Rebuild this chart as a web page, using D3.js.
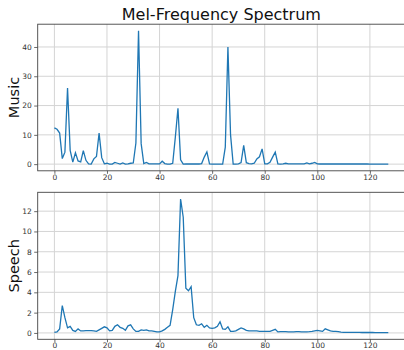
<!DOCTYPE html>
<html><head><meta charset="utf-8">
<script src="https://cdn.jsdelivr.net/npm/d3@7"></script>
<style>
body{margin:0;background:#fff;}
svg{display:block;}
text{font-family:"DejaVu Sans",sans-serif;}
</style></head>
<body>
<svg id="c" width="404" height="350"></svg>
<script>
const title = "Mel-Frequency Spectrum";
const seriesNames = ["Music", "Speech"];
const xTicks = [0, 20, 40, 60, 80, 100, 120];
const musicTicks = [0, 10, 20, 30, 40];
const speechTicks = [0, 2, 4, 6, 8, 10, 12];

const music = [
12.4,11.9,10.6,1.9,4.1,26,4.7,0.7,3.9,1.1,
0.8,4.6,1.3,0.1,0,1.8,2.6,10.6,2.2,0.1,
0.3,0,0,0.6,0.3,0,0.4,0,0.1,0.3,
0.4,7.2,45.5,7.0,0.2,0.6,0.1,0.1,0.1,0.1,
0.1,1.0,0.2,0,0,0.3,9.2,19.1,1.5,0,
0.05,0.05,0.05,0.05,0.05,0.05,0.2,2.4,4.2,0.1,
0,0,0,0,0,5.8,40,10,0,0,
0.1,0.5,6.4,0.5,0.2,0.1,0.3,1.8,2.5,5.2,
0.1,0.1,0.6,2.4,4.1,0.1,0,0.1,0.3,0.1,
0.1,0.1,0.1,0.1,0.1,0.1,0.4,0.1,0.3,0.6,
0.1,0.05,0.05,0.05,0.05,0.05,0.05,0.05,0.05,0.05,
0.05,0.05,0.05,0.05,0.05,0.05,0.04,0.04,0.04,0.04,
0.03,0.03,0.03,0.03,0.03,0.02,0.02,0.02
];
const speech = [
0.05,0.1,0.4,2.7,1.5,0.5,0.65,0.25,0.15,0.4,
0.2,0.2,0.22,0.22,0.22,0.2,0.15,0.3,0.45,0.6,
0.5,0.2,0.25,0.65,0.8,0.55,0.45,0.25,0.7,0.8,
0.4,0.15,0.15,0.3,0.25,0.3,0.2,0.2,0.15,0.1,
0.1,0.2,0.35,0.55,0.75,2.3,4.1,5.65,13.2,11.4,
4.4,4.15,4.55,1.5,0.8,0.75,0.9,0.55,0.75,0.5,
0.45,0.5,0.65,1.1,0.4,0.35,0.6,0.15,0.15,0.2,
0.35,0.5,0.4,0.25,0.2,0.2,0.2,0.2,0.15,0.15,
0.15,0.15,0.15,0.25,0.35,0.1,0.12,0.12,0.12,0.1,
0.1,0.1,0.12,0.12,0.1,0.1,0.1,0.12,0.15,0.2,
0.25,0.2,0.15,0.4,0.3,0.2,0.15,0.15,0.12,0.08,
0.05,0.05,0.05,0.05,0.05,0.05,0.05,0.04,0.04,0.04,
0.04,0.04,0.03,0.03,0.03,0.03,0.03,0.03
];

const svg = d3.select("#c");
const left = 37.7, right = 405;
const x = d3.scaleLinear().domain([-6.35, 133.35]).range([left, right]);

function panel(data, ticks, name, top, bottom) {
  const ext = d3.extent(data);
  const pad = (ext[1] - ext[0]) * 0.05;
  const y = d3.scaleLinear().domain([ext[0] - pad, ext[1] + pad]).range([bottom, top]);
  const g = svg.append("g");
  g.selectAll(".gx").data(xTicks).join("line")
    .attr("x1", d => x(d)).attr("x2", d => x(d))
    .attr("y1", top).attr("y2", bottom)
    .attr("stroke", "#d4d4d4").attr("stroke-width", 1);
  g.selectAll(".gy").data(ticks).join("line")
    .attr("x1", left).attr("x2", right)
    .attr("y1", d => y(d)).attr("y2", d => y(d))
    .attr("stroke", "#d4d4d4").attr("stroke-width", 1);
  g.append("path").datum(data)
    .attr("d", d3.line().x((d, i) => x(i)).y(d => y(d)))
    .attr("fill", "none").attr("stroke", "#1f77b4").attr("stroke-width", 1.3);
  const xa = g.append("g").attr("transform", `translate(0,${bottom})`)
    .call(d3.axisBottom(x).tickValues(xTicks).tickSize(3).tickPadding(0.5).tickSizeOuter(0));
  const ya = g.append("g").attr("transform", `translate(${left},0)`)
    .call(d3.axisLeft(y).tickValues(ticks).tickSize(3.5).tickPadding(2.5).tickSizeOuter(0));
  [xa, ya].forEach(a => {
    a.select(".domain").remove();
    a.selectAll("line").attr("stroke", "#444").attr("stroke-width", 0.8);
    a.selectAll("text").attr("fill", "#333").style("font-size", "7.5px")
      .style("font-family", "DejaVu Sans");
  });
  g.append("rect").attr("x", left).attr("y", top)
    .attr("width", right - left).attr("height", bottom - top)
    .attr("fill", "none").attr("stroke", "#444").attr("stroke-width", 0.9);
  svg.append("text")
    .attr("transform", `translate(18.5,${(top + bottom) / 2}) rotate(-90)`)
    .attr("text-anchor", "middle")
    .style("font-size", "14.5px").attr("fill", "#111")
    .text(name);
}

panel(music, musicTicks, seriesNames[0], 24.2, 170.8);
panel(speech, speechTicks, seriesNames[1], 192.3, 339.3);

svg.append("text").attr("x", (left + right) / 2).attr("y", 20)
  .attr("text-anchor", "middle").style("font-size", "16px").attr("fill", "#111")
  .text(title);
</script>
</body></html>
